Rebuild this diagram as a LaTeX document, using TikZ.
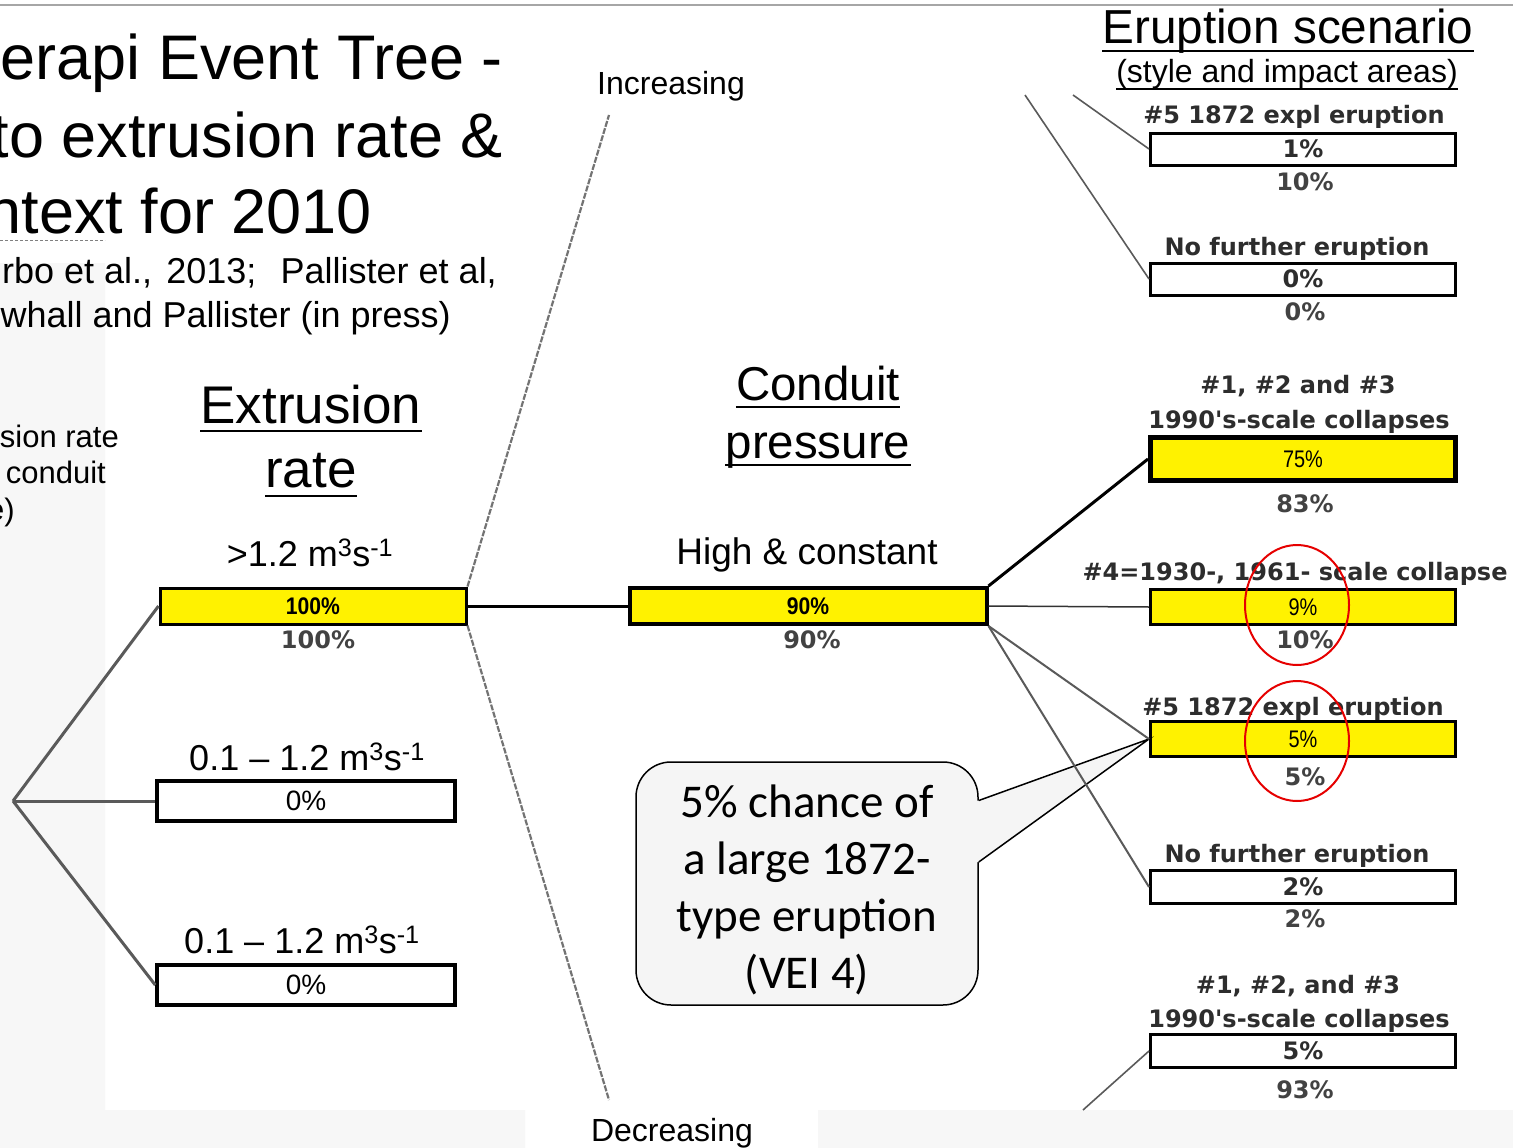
\documentclass[tikz,border=0pt]{standalone}
\usepackage{fontspec}
\setmainfont{Liberation Sans}
\newfontfamily\lblfont{DejaVu Sans}
\newfontfamily\calfont{Carlito}
\newcommand\setsz[1]{\fontsize{#1}{#1}\selectfont}
\newcommand\narrowtxt[1]{\scalebox{0.83}[1]{#1}}
\newcommand\narrowbf[1]{\scalebox{0.88}[1]{\bfseries #1}}
\definecolor{bggray}{RGB}{247,247,247}
\definecolor{linegray}{RGB}{90,90,90}
\definecolor{lblgray}{RGB}{45,45,45}
\definecolor{callfill}{RGB}{245,245,245}
\definecolor{ringred}{RGB}{230,0,0}

\begin{document}
\begin{tikzpicture}[x=1pt,y=-1pt,
  txt/.style={inner sep=0pt,anchor=base},
  title/.style={txt,font=\setsz{63}},
  cite/.style={txt,font=\setsz{36}},
  side/.style={txt,font=\setsz{31}},
  branch/.style={txt,font=\setsz{36}},
  trend/.style={txt,font=\setsz{32}},
  lbl/.style={txt,text=lblgray,font=\lblfont\bfseries\setsz{24}},
  pct/.style={txt,text=lblgray!90!white,font=\lblfont\bfseries\setsz{24}},
  ybar/.style={draw=black,fill=yellow,line width=3pt,inner sep=0pt,font=\setsz{24}},
  wbar/.style={draw=black,fill=white,line width=3pt,inner sep=0pt,text=lblgray,font=\lblfont\bfseries\setsz{24}},
  rbar/.style={minimum width=305pt},
  uline/.style={line width=2pt},
  gline/.style={draw=linegray,line width=3pt},
  tline/.style={draw=linegray,line width=1.6pt},
  trendline/.style={draw=black!55,line width=2.2pt,dash pattern=on 6pt off 1.5pt},
  ring/.style={draw=ringred,line width=2pt}
]
\useasboundingbox (0,0) rectangle (1513,1148);
\clip (0,0) rectangle (1513,1148);

% page background
\fill[white] (0,0) rectangle (1513,1148);
\fill[bggray] (0,263) -- (105,263) -- (105,1110) -- (525,1110) -- (525,1148) -- (0,1148) -- cycle;
\fill[bggray] (818,1110) rectangle (1513,1148);
\draw[gray!70,line width=2pt] (0,5) -- (1513,5);

% title block
\node[title,anchor=base east] (t1) at (503,80) {erapi Event Tree -};
\node[title,anchor=base east] (t2) at (503,157) {to extrusion rate \&};
\node[title,anchor=base east] (t3) at (372,233) {ntext for 2010};
\draw[gray,line width=1pt,dash pattern=on 3pt off 2pt] (0,240) -- (105,240);
\node[cite,anchor=base west] (s1a) at (2,283) {rbo et al., \hspace{4pt}2013;};
\node[cite,anchor=base east] (s1b) at (497,283) {Pallister et al,};
\node[cite,anchor=base east] (s2) at (451,327) {whall and Pallister (in press)};

% side note
\node[side,anchor=base east] (n1) at (119,447) {sion rate};
\node[side,anchor=base east] (n2) at (106,483) {conduit};
\node[side,anchor=base east] (n3) at (15,520) {e)};

% column headers
\node[txt,font=\setsz{53}] (h1a) at (311,423) {Extrusion};
\node[txt,font=\setsz{53}] (h1b) at (311,487) {rate};
\node[txt,font=\setsz{47.5}] (h2a) at (818,400) {Conduit};
\node[txt,font=\setsz{47.5}] (h2b) at (818,458) {pressure};
\node[txt,font=\setsz{47.7}] (h3a) at (1288,44) {Eruption scenario};
\node[txt,font=\setsz{32}] (h3b) at (1287,83) {(style and impact areas)};
\foreach \n/\d in {h1a/8,h1b/9,h2a/7,h2b/7,h3a/7}
  \draw[uline] ([yshift=-\d pt]\n.base west) -- ([yshift=-\d pt]\n.base east);
\draw[line width=1.4pt] ([yshift=-6pt]h3b.base west) -- ([yshift=-6pt]h3b.base east);

% extrusion rate branches
\coordinate (root) at (13,801);
\node[ybar,minimum width=306pt,minimum height=36pt] (e1) at (313,606) {\narrowbf{100\%}};
\node[wbar,minimum width=298pt,minimum height=40pt,line width=3.5pt,text=black,font=\setsz{28}] (e2) at (306,801) {0\%};
\node[wbar,minimum width=298pt,minimum height=40pt,line width=3.5pt,text=black,font=\setsz{28}] (e3) at (306,985) {0\%};
\node[branch] (l1) at (310,566) {>1.2 m\textsuperscript{3}s\textsuperscript{-1}};
\node[branch] (l2) at (307,770) {0.1 – 1.2 m\textsuperscript{3}s\textsuperscript{-1}};
\node[branch] (l3) at (302,953) {0.1 – 1.2 m\textsuperscript{3}s\textsuperscript{-1}};
\node[pct] (p1) at (318,648) {100\%};

% conduit pressure branch
\node[ybar,minimum width=357pt,minimum height=36pt,line width=4pt] (c1) at (808,606) {\narrowbf{90\%}};
\node[branch,font=\setsz{37}] (l4) at (807,564) {High \& constant};
\node[pct] (p2) at (812,648) {90\%};
\coordinate (inc) at (609,115);
\coordinate (dec) at (609,1100);
\node[trend] (l5) at (671,95) {Increasing};
\node[trend] (l6) at (672,1141) {Decreasing};

% eruption scenarios
\node[wbar,rbar,minimum height=32pt] (r1) at (1303,149) {1\%};
\node[wbar,rbar,minimum height=32pt] (r2) at (1303,279) {0\%};
\node[ybar,rbar,minimum height=43pt,line width=5pt] (r3) at (1303,459) {\narrowtxt{75\%}};
\node[ybar,rbar,minimum height=35pt] (r4) at (1303,607) {\narrowtxt{9\%}};
\node[ybar,rbar,minimum height=35pt] (r5) at (1303,739) {\narrowtxt{5\%}};
\node[wbar,rbar,minimum height=33pt] (r6) at (1303,887) {2\%};
\node[wbar,rbar,minimum height=33pt] (r7) at (1303,1051) {5\%};

\node[lbl] (a1) at (1294,123) {\#5 1872 expl eruption};
\node[lbl] (a2) at (1297,255) {No further eruption};
\node[lbl] (a3) at (1298,393) {\#1, \#2 and \#3};
\node[lbl] (a3b) at (1299,428) {1990's-scale collapses};
\node[lbl] (a4) at (1295,580) {\#4=1930-, 1961- scale collapse};
\node[lbl] (a5) at (1293,715) {\#5 1872 expl eruption};
\node[lbl] (a6) at (1297,862) {No further eruption};
\node[lbl] (a7) at (1298,993) {\#1, \#2, and \#3};
\node[lbl] (a7b) at (1299,1027) {1990's-scale collapses};

\node[pct] (q1) at (1305,190) {10\%};
\node[pct] (q2) at (1305,320) {0\%};
\node[pct] (q3) at (1305,512) {83\%};
\node[pct] (q4) at (1305,648) {10\%};
\node[pct] (q5) at (1305,785) {5\%};
\node[pct] (q6) at (1305,927) {2\%};
\node[pct] (q7) at (1305,1098) {93\%};

% callout
\node[draw,fill=callfill,line width=1.5pt,rounded corners=35pt,minimum width=342pt,minimum height=243pt,
      align=center,font={\calfont\fontsize{47}{57}\selectfont}] (co) at (807,883.5)
  {\rule{0pt}{45pt}5\% chance of\\a large 1872-\\type eruption\\(VEI 4)};
\fill[callfill] ([yshift=83pt,xshift=-2pt]co.east) -- ([yshift=83pt]co.east) -- (r5.west)
  -- ([yshift=21.5pt]co.east) -- ([yshift=21.5pt,xshift=-2pt]co.east) -- cycle;
\draw[line width=1.5pt] ([yshift=83pt]co.east) -- (r5.west) -- ([yshift=21.5pt]co.east);

% connectors
\draw[gline] (root) -- (e1.west);
\draw[gline] (root) -- (e2.west);
\draw[gline] (root) -- (e3.west);
\draw[black,line width=3pt] (e1.east) -- (c1.west);
\draw[trendline] (e1.north east) -- (inc);
\draw[trendline] (e1.south east) -- (dec);
\draw[black,line width=3pt] (c1.north east) -- (r3.west);
\draw[draw=black!80,line width=1.5pt] (c1.east) -- (r4.west);
\draw[tline,line width=2pt] (c1.south east) -- (r5.west);
\draw[tline,line width=2pt] (c1.south east) -- (r6.west);
\coordinate (u1) at (1073,95);
\coordinate (u2) at (1025,95);
\coordinate (b1) at (1083,1110);
\draw[tline] (u1) -- (r1.west);
\draw[tline] (u2) -- (r2.west);
\draw[tline] (b1) -- (r7.west);

% highlight rings
\draw[ring] (1297,605) ellipse [x radius=52pt, y radius=60pt];
\draw[ring] (1297,741) ellipse [x radius=52pt, y radius=60pt];
\end{tikzpicture}
\end{document}
